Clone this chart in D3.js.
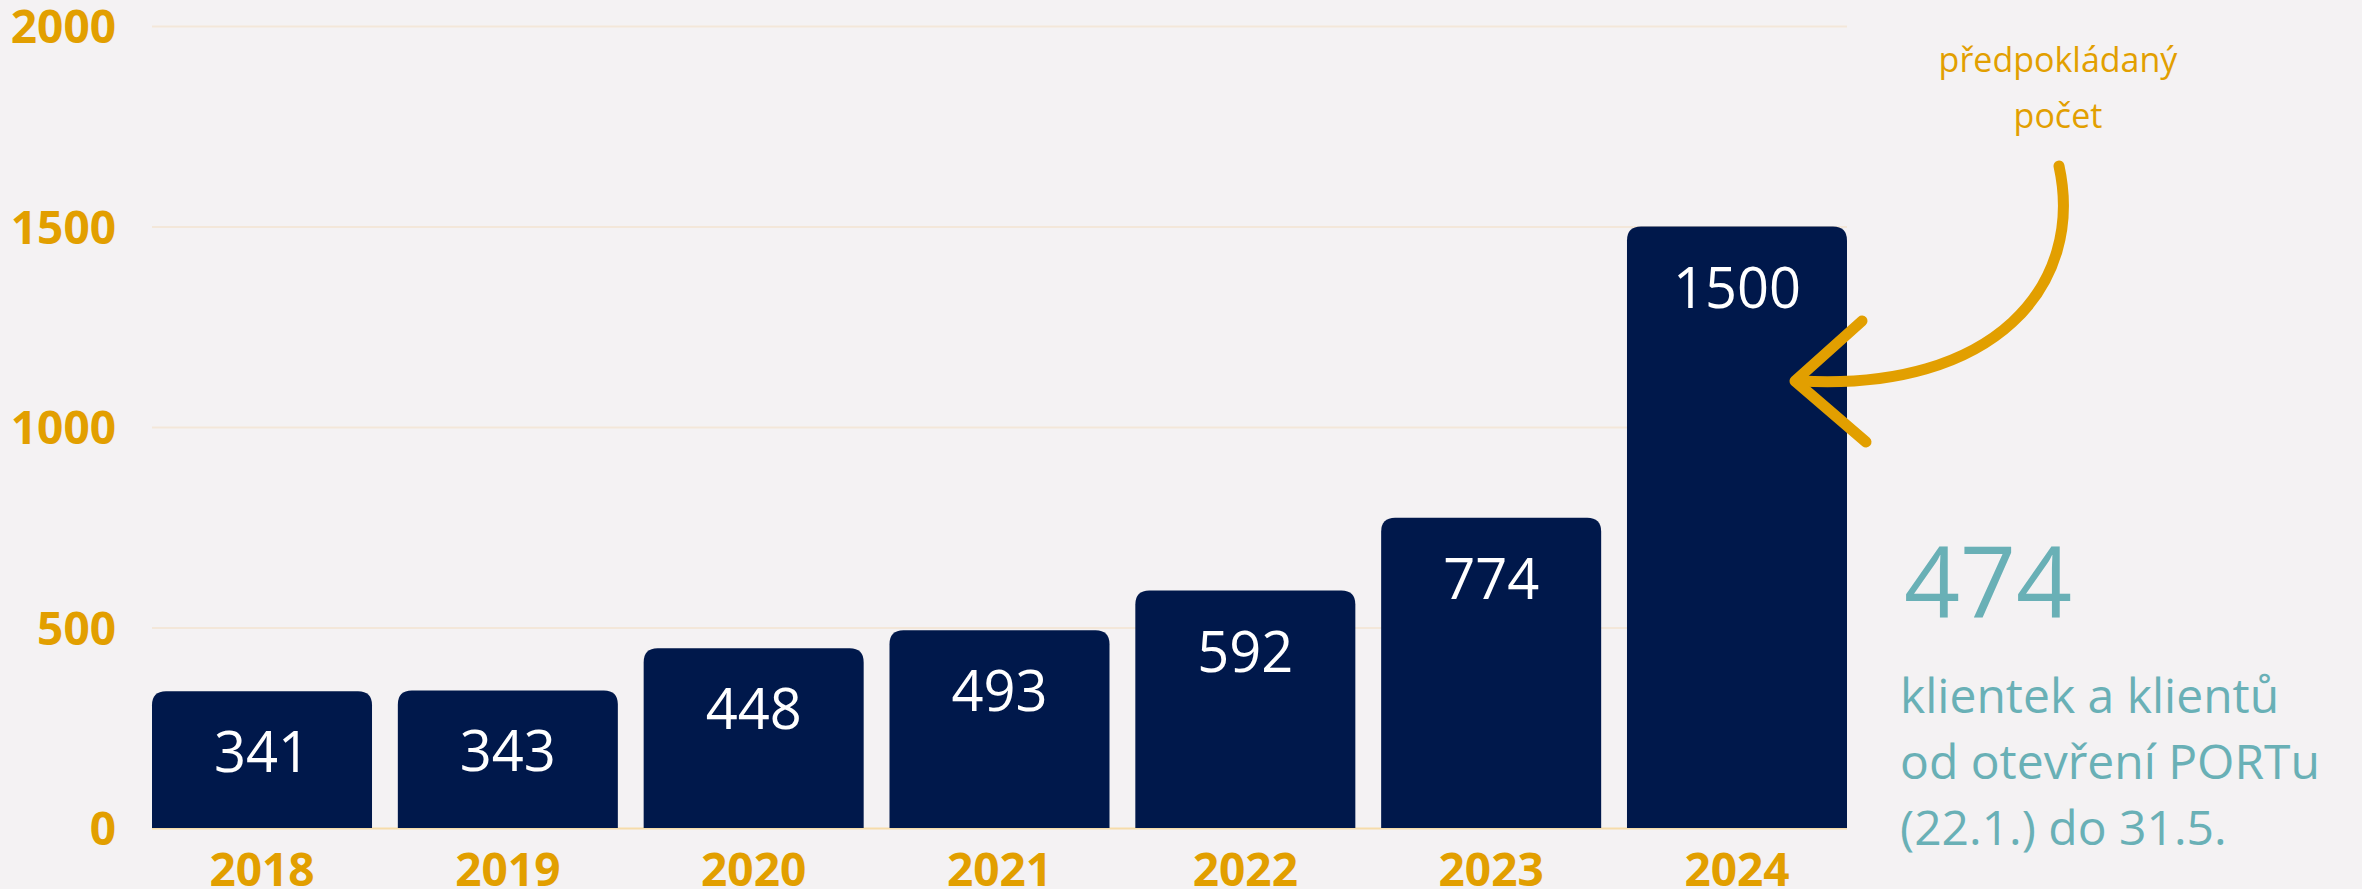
<!DOCTYPE html>
<meta charset="utf-8">
<style>

body {
  margin: 0;
  background: #f4f2f3;
  font-family: "Open Sans", "Noto Sans", sans-serif;
}

.axis path.domain {
  display: none;
}

.y.axis line {
  stroke: #f3e7d9;
  stroke-width: 2;
}

.axis text {
  fill: #e29f00;
  font-family: "Open Sans", "Noto Sans", sans-serif;
  font-weight: bold;
  font-size: 46px;
}

.bar {
  fill: #00184b;
}

.value {
  fill: #fff;
  font-size: 56px;
  text-anchor: middle;
}

.note {
  fill: #e29f00;
  font-size: 34px;
  text-anchor: middle;
}

.total {
  fill: #69b0b6;
}

</style>
<body>
<svg width="2362" height="889"></svg>
<script src="https://d3js.org/d3.v7.min.js"></script>
<script>

// data
var years = ["2018", "2019", "2020", "2021", "2022", "2023", "2024"];
var clients = [341, 343, 448, 493, 592, 774, 1500];
var yTicks = [0, 500, 1000, 1500, 2000];

var data = years.map(function(d, i) { return {year: d, value: clients[i]}; });

var svg = d3.select("svg"),
    margin = {top: 26, right: 515, bottom: 61, left: 152},
    width = +svg.attr("width") - margin.left - margin.right,
    height = +svg.attr("height") - margin.top - margin.bottom;

var x = d3.scaleBand().range([0, width]).paddingInner(0.105).paddingOuter(0),
    y = d3.scaleLinear().domain([0, 2000]).range([height, 0]);

x.domain(years);

var g = svg.append("g")
    .attr("transform", "translate(" + margin.left + "," + margin.top + ")");

// y axis with gridlines
g.append("g")
    .attr("class", "y axis")
    .call(d3.axisLeft(y).tickValues(yTicks).tickFormat(d3.format("d"))
      .tickSize(-width).tickPadding(36))
  .selectAll("text")
    .attr("dy", "0.36em");

g.select(".y.axis").selectAll(".tick")
    .filter(function(d) { return d === 0; })
    .select("line")
    .style("stroke", "#f6dcaa");

// x axis
g.append("g")
    .attr("class", "x axis")
    .attr("transform", "translate(0," + height + ")")
    .call(d3.axisBottom(x).tickSize(0))
  .selectAll("text")
    .attr("dy", null)
    .attr("y", 58);

// bars with rounded top corners
var r = 14;
function barPath(d) {
  var x0 = x(d.year), x1 = x0 + x.bandwidth(),
      y0 = y(d.value), y1 = y(0);
  return "M" + x0 + "," + y1 +
    "V" + (y0 + r) +
    "Q" + x0 + "," + y0 + " " + (x0 + r) + "," + y0 +
    "H" + (x1 - r) +
    "Q" + x1 + "," + y0 + " " + x1 + "," + (y0 + r) +
    "V" + y1 + "Z";
}

g.selectAll(".bar")
  .data(data)
  .enter().append("path")
    .attr("class", "bar")
    .attr("d", barPath);

g.selectAll(".value")
  .data(data)
  .enter().append("text")
    .attr("class", "value")
    .attr("x", function(d) { return x(d.year) + x.bandwidth() / 2; })
    .attr("y", function(d) { return y(d.value) + 81; })
    .text(function(d) { return d.value; });

// annotation: expected count
var note = svg.append("g");

note.append("text")
    .attr("class", "note")
    .attr("x", 2058)
    .attr("y", 72)
    .text("předpokládaný");

note.append("text")
    .attr("class", "note")
    .attr("x", 2058)
    .attr("y", 128)
    .text("počet");

note.append("path")
    .attr("d", "M2059,166 C2085,285 1995,392 1800,381")
    .attr("fill", "none")
    .attr("stroke", "#e29f00")
    .attr("stroke-width", 11)
    .attr("stroke-linecap", "round");

note.append("path")
    .attr("d", "M1862,321 L1795,381 L1866,442")
    .attr("fill", "none")
    .attr("stroke", "#e29f00")
    .attr("stroke-width", 11)
    .attr("stroke-linecap", "round")
    .attr("stroke-linejoin", "round");

// total since opening
var side = svg.append("g").attr("class", "total");

side.append("text")
    .attr("x", 1904)
    .attr("y", 617)
    .style("font-size", "98px")
    .text("474");

var lines = ["klientek a klientů", "od otevření PORTu", "(22.1.) do 31.5."];

side.selectAll(".line")
  .data(lines)
  .enter().append("text")
    .attr("class", "line")
    .attr("x", 1900)
    .attr("y", function(d, i) { return 713 + i * 66; })
    .style("font-size", "48px")
    .text(function(d) { return d; });

</script>
</body>
